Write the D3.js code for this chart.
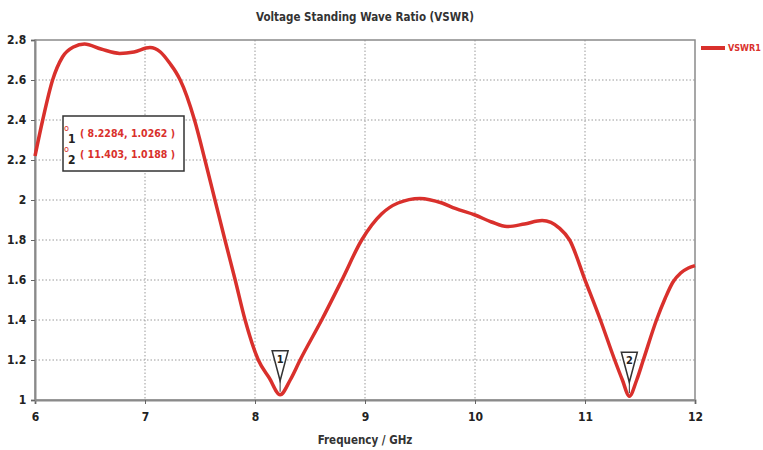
<!DOCTYPE html>
<html>
<head>
<meta charset="utf-8">
<script src="https://cdn.jsdelivr.net/npm/d3@7"></script>
<style>
  body { margin: 0; background: #fff; }
  svg { display: block; font-family: "DejaVu Sans Condensed", "Liberation Sans Narrow", "DejaVu Sans", sans-serif; }
</style>
</head>
<body>
<svg id="chart"></svg>
<script>
const freq = [6.0, 6.07, 6.16, 6.25, 6.35, 6.45, 6.6, 6.77, 6.9, 7.045, 7.14, 7.23, 7.28, 7.32, 7.45, 7.545,
  7.636, 7.727, 7.82, 7.91, 8.03, 8.13, 8.2284, 8.32, 8.41, 8.606, 8.79, 8.97, 9.15, 9.3, 9.5,
  9.7, 9.82, 10.0, 10.15, 10.29, 10.45, 10.61, 10.77, 10.86, 11.0, 11.14, 11.27, 11.34, 11.403,
  11.47, 11.53, 11.65, 11.73, 11.8, 11.87, 11.94, 12.0];
const vswr = [2.22, 2.40, 2.60, 2.715, 2.765, 2.78, 2.755, 2.733, 2.74, 2.762, 2.74, 2.68, 2.64, 2.60, 2.40, 2.20,
  2.00, 1.80, 1.60, 1.40, 1.20, 1.11, 1.0262, 1.10, 1.20, 1.40, 1.60, 1.80, 1.93, 1.985, 2.008,
  1.985, 1.958, 1.925, 1.89, 1.867, 1.88, 1.897, 1.858, 1.80, 1.60, 1.40, 1.20, 1.10, 1.0188,
  1.10, 1.20, 1.40, 1.51, 1.59, 1.635, 1.66, 1.672];

const xTicks = [6, 7, 8, 9, 10, 11, 12];
const yTicks = [1, 1.2, 1.4, 1.6, 1.8, 2, 2.2, 2.4, 2.6, 2.8];

const markerIds = ['1', '2'];
const markerFreq = [8.2284, 11.403];
const markerVal = [1.0262, 1.0188];
const markerLabels = ['( 8.2284, 1.0262 )', '( 11.403, 1.0188 )'];

const width = 763;
const height = 450;
const red = '#d9302c';

const svg = d3.select('#chart').attr('width', width).attr('height', height);

const x = d3.scaleLinear().domain([6, 12]).range([35, 695]);
const y = d3.scaleLinear().domain([1, 2.8]).range([400, 40]);

// title
svg.append('text')
  .attr('x', 365).attr('y', 21)
  .attr('text-anchor', 'middle')
  .attr('font-size', 11.5).attr('font-weight', 'bold')
  .attr('fill', '#333')
  .text('Voltage Standing Wave Ratio (VSWR)');

// grid
svg.append('g').selectAll('line')
  .data(xTicks.slice(1, -1))
  .join('line')
  .attr('x1', d => x(d)).attr('x2', d => x(d))
  .attr('y1', y(2.8)).attr('y2', y(1))
  .attr('stroke', '#9a9a9a').attr('stroke-width', 1)
  .attr('stroke-dasharray', '1.5,2');

svg.append('g').selectAll('line')
  .data(yTicks.slice(1, -1))
  .join('line')
  .attr('x1', x(6)).attr('x2', x(12))
  .attr('y1', d => y(d)).attr('y2', d => y(d))
  .attr('stroke', '#9a9a9a').attr('stroke-width', 1)
  .attr('stroke-dasharray', '1.5,2');

// frame
svg.append('rect')
  .attr('x', x(6)).attr('y', y(2.8))
  .attr('width', x(12) - x(6)).attr('height', y(1) - y(2.8))
  .attr('fill', 'none').attr('stroke', '#8a8a8a').attr('stroke-width', 1.5);

// axes
const xAxis = svg.append('g')
  .attr('transform', `translate(0,${y(1)})`)
  .call(d3.axisBottom(x).tickValues(xTicks).tickSize(4).tickFormat(d3.format('d')));
const yAxis = svg.append('g')
  .attr('transform', `translate(${x(6)},0)`)
  .call(d3.axisLeft(y).tickValues(yTicks).tickSize(4).tickFormat(d => d3.format('')(d)));

[xAxis, yAxis].forEach(a => {
  a.select('.domain').attr('stroke', '#8a8a8a').attr('stroke-width', 2);
  a.selectAll('.tick line').attr('stroke', '#666');
  a.selectAll('.tick text')
    .attr('font-family', '"DejaVu Sans Condensed", "DejaVu Sans", sans-serif')
    .attr('font-size', 12).attr('font-weight', 'bold').attr('fill', '#222');
});
xAxis.selectAll('.tick text').attr('dy', '1.2em');
yAxis.selectAll('.tick text').attr('dx', '-0.15em');

svg.append('text')
  .attr('x', 365).attr('y', 444)
  .attr('text-anchor', 'middle')
  .attr('font-size', 11.5).attr('font-weight', 'bold').attr('fill', '#333')
  .text('Frequency / GHz');

// curve
const pts = freq.map((f, i) => [f, vswr[i]]);
const line = d3.line()
  .x(d => x(d[0])).y(d => y(d[1]))
  .curve(d3.curveMonotoneX);

svg.append('path')
  .datum(pts)
  .attr('d', line)
  .attr('fill', 'none')
  .attr('stroke', red).attr('stroke-width', 3.5)
  .attr('stroke-linejoin', 'round');

// markers
markerIds.forEach((id, i) => {
  const mx = x(markerFreq[i]);
  const my = y(markerVal[i]);
  const g = svg.append('g');
  g.append('line')
    .attr('x1', mx).attr('x2', mx)
    .attr('y1', my - 16).attr('y2', my - 3)
    .attr('stroke', '#333').attr('stroke-width', 1);
  g.append('path')
    .attr('d', `M${mx - 8},${my - 44}L${mx + 8},${my - 44}L${mx},${my - 14}Z`)
    .attr('fill', '#fff').attr('stroke', '#333').attr('stroke-width', 1.5);
  g.append('text')
    .attr('x', mx).attr('y', my - 32)
    .attr('text-anchor', 'middle')
    .attr('font-size', 11).attr('font-weight', 'bold').attr('fill', '#222')
    .text(id);
});

// marker readout box
const box = svg.append('g');
box.append('rect')
  .attr('x', 63).attr('y', 116).attr('width', 121).attr('height', 55)
  .attr('fill', '#fff').attr('stroke', '#333').attr('stroke-width', 1.5);
markerIds.forEach((id, i) => {
  const by = 137 + i * 21;
  box.append('text')
    .attr('x', 64).attr('y', by - 6)
    .attr('font-size', 9).attr('fill', red)
    .text('o');
  box.append('text')
    .attr('x', 68).attr('y', by + 6)
    .attr('font-size', 12).attr('font-weight', 'bold').attr('fill', '#222')
    .text(id);
  box.append('text')
    .attr('x', 80).attr('y', by)
    .attr('font-size', 10.5).attr('font-weight', 'bold').attr('fill', red)
    .text(markerLabels[i]);
});

// legend
svg.append('line')
  .attr('x1', 701).attr('x2', 725)
  .attr('y1', 48).attr('y2', 48)
  .attr('stroke', red).attr('stroke-width', 4);
svg.append('text')
  .attr('x', 728).attr('y', 51)
  .attr('font-size', 9).attr('font-weight', 'bold').attr('fill', red)
  .text('VSWR1');
</script>
</body>
</html>
